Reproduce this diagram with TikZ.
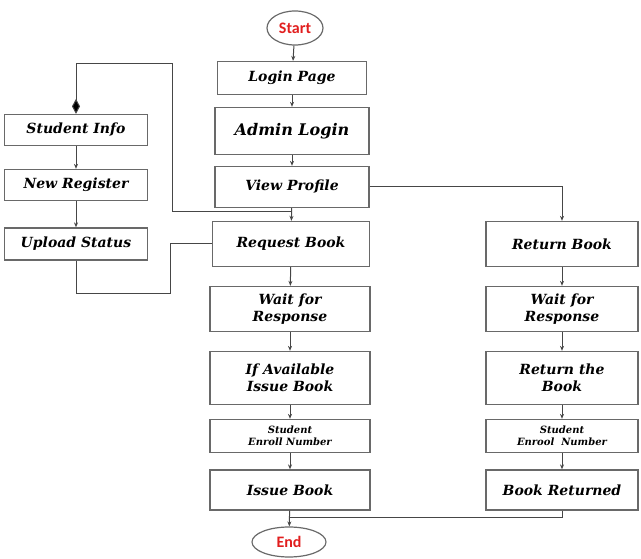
\documentclass[tikz,border=0pt]{standalone}
\usepackage{fontspec}
\usetikzlibrary{arrows.meta,shapes.geometric}
\newfontfamily\boxfont{DejaVu Serif}
\newfontfamily\endsfont{Carlito}
\definecolor{edgegray}{RGB}{105,105,105}
\definecolor{linegray}{RGB}{70,70,70}
\definecolor{endred}{RGB}{225,30,30}
\tikzset{
	stepbox/.style={draw=edgegray, line width=1.3pt, fill=white,
		align=center, inner sep=1pt,
		font=\boxfont\bfseries\itshape\fontsize{14}{17}\selectfont},
	smallbox/.style={stepbox,
		font=\boxfont\bfseries\itshape\fontsize{10}{12}\selectfont},
	endsnode/.style={draw=edgegray, line width=1.2pt, ellipse,
		text=endred, inner sep=0pt,
		font=\endsfont\bfseries\fontsize{16}{18}\selectfont},
	flow/.style={draw=linegray, line width=1pt,
		-{Stealth[length=5pt,width=4pt]}},
	plain/.style={draw=linegray, line width=1pt}
}
\begin{document}
\begin{tikzpicture}[x=1pt, y=-1pt]
		
		\useasboundingbox (0,0) rectangle (641,559);
		
		% Start and End
		\node [endsnode,
		minimum width=56pt,
		minimum height=34pt] (start) at (295,28) {Start};
		
		\node [endsnode,
		minimum width=74pt,
		minimum height=30pt] (end) at (289,542) {End};
		
		% Main column
		\node [stepbox,
		minimum width=149pt,
		minimum height=33pt] (login) at (292,78) {Login Page};
		
		\node [stepbox,
		minimum width=154pt,
		minimum height=47pt,
		font=\boxfont\bfseries\itshape\fontsize{16}{19}\selectfont] (admin) at (292,131) {Admin Login};
		
		\node [stepbox,
		minimum width=154pt,
		minimum height=41pt] (profile) at (292,187) {View Profile};
		
		\node [stepbox,
		minimum width=157pt,
		minimum height=45pt] (request) at (291,244) {Request Book};
		
		\node [stepbox,
		minimum width=160pt,
		minimum height=45pt] (waitreq) at (290,309) {Wait for\\Response};
		
		\node [stepbox,
		minimum width=160pt,
		minimum height=53pt] (avail) at (290,378) {If Available\\Issue Book};
		
		\node [smallbox,
		minimum width=160pt,
		minimum height=33pt] (enrollreq) at (290,436) {Student\\Enroll Number};
		
		\node [stepbox,
		minimum width=160pt,
		minimum height=40pt] (issue) at (290,490) {Issue Book};
		
		% Return column
		\node [stepbox,
		minimum width=152pt,
		minimum height=45pt] (return) at (562,244) {Return Book};
		
		\node [stepbox,
		minimum width=152pt,
		minimum height=45pt] (waitret) at (562,309) {Wait for\\Response};
		
		\node [stepbox,
		minimum width=152pt,
		minimum height=53pt] (retbook) at (562,378) {Return the\\Book};
		
		\node [smallbox,
		minimum width=152pt,
		minimum height=33pt] (enrollret) at (562,436) {Student\\Enrool~~Number};
		
		\node [stepbox,
		minimum width=152pt,
		minimum height=40pt] (returned) at (562,490) {Book Returned};
		
		% Student column
		\node [stepbox,
		minimum width=143pt,
		minimum height=31pt] (info) at (76,130) {Student Info};
		
		\node [stepbox,
		minimum width=143pt,
		minimum height=31pt] (register) at (76,185) {New Register};
		
		\node [stepbox,
		minimum width=143pt,
		minimum height=32pt] (upload) at (76,244) {Upload Status};
		
		% bends of the loops
		\coordinate (profjoin) at (292,212);
		\coordinate (topbend) at (172,64);
		\coordinate (lowbend) at (170,294);
		\coordinate (endjoin) at (289,517);
		
		% main flow
		\draw [flow] (start) -- (login);
		\draw [flow] (login) -- (admin);
		\draw [flow] (admin) -- (profile);
		\draw [flow] (profile) -- (request);
		\draw [flow] (request) -- (waitreq);
		\draw [flow] (waitreq) -- (avail);
		\draw [flow] (avail) -- (enrollreq);
		\draw [flow] (enrollreq) -- (issue);
		\draw [flow] (issue) -- (end);
		
		% return flow
		\draw [flow] (profile.east) -| (return.north);
		\draw [flow] (return) -- (waitret);
		\draw [flow] (waitret) -- (retbook);
		\draw [flow] (retbook) -- (enrollret);
		\draw [flow] (enrollret) -- (returned);
		\draw [plain] (returned.south) |- (endjoin);
		
		% student flow
		\draw [flow] (info) -- (register);
		\draw [flow] (register) -- (upload);
		\draw [plain] (upload.south) |- (lowbend) |- (request.west);
		\draw [plain, -{Diamond[length=15pt,width=8pt,fill=black]}] (profjoin) -| (topbend) -| (info.north);
		
	\end{tikzpicture}
\end{document}
